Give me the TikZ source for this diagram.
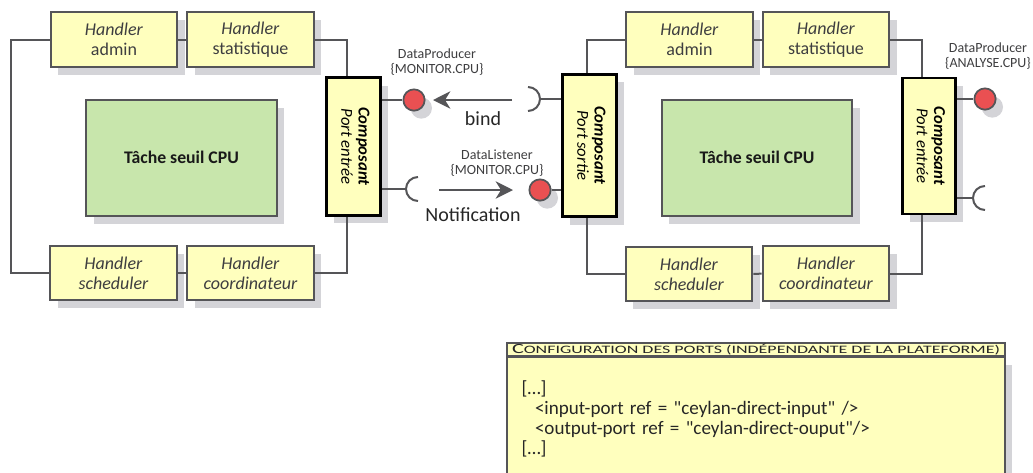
\documentclass[tikz,border=0pt]{standalone}
\usepackage{fontspec}
\setmainfont{Carlito}
\newfontfamily\cfgfont{Carlito}
\usepackage{graphicx}
\usetikzlibrary{arrows.meta, positioning, calc, shadows}
\definecolor{cYellow}{RGB}{255,255,190}
\definecolor{cGreen}{RGB}{200,230,172}
\definecolor{cRed}{RGB}{234,80,82}
\definecolor{cWire}{RGB}{85,85,88}
\definecolor{cShadow}{RGB}{212,212,216}
\definecolor{cText}{RGB}{62,62,64}
\tikzset{
	shade/.style   ={drop shadow={shadow xshift=5.5pt, shadow yshift=-6pt, fill=cShadow, opacity=1}},
	handler/.style ={rectangle, draw=cWire, line width=1.5pt, fill=cYellow, shade, minimum width=95pt, minimum height=41pt, align=center, text=cText, font=\fontsize{13.5}{15}\selectfont},
	task/.style    ={rectangle, draw=cWire, line width=1.5pt, fill=cGreen, shade, minimum width=143pt, minimum height=87pt, text=black!90, font=\bfseries\fontsize{13.3}{15}\selectfont},
	compo/.style   ={rectangle, draw=black, line width=2.2pt, fill=cYellow, shade, minimum width=40pt, inner sep=0pt, text=black, font=\fontsize{12.5}{13}\selectfont},
	port/.style    ={circle, draw=cWire, line width=1.3pt, fill=cRed, shade, minimum size=16pt, inner sep=0pt},
	wire/.style    ={draw=cWire, line width=1.5pt},
	flow/.style    ={draw=cWire, line width=1.5pt, -{Stealth[length=13pt, width=13pt, inset=4pt]}},
	plabel/.style  ={align=center, text=cText, font=\fontsize{10.5}{11.5}\selectfont},
	flabel/.style  ={text=black!85, font=\fontsize{15}{17}\selectfont},
	cfghead/.style ={rectangle, draw=cWire, line width=1pt, fill=cYellow, minimum width=373.5pt, minimum height=9.75pt, inner sep=0pt, text=black!85, font=\cfgfont\fontsize{8.5}{8.5}\selectfont},
	cfgbody/.style ={rectangle, draw=cWire, line width=1pt, fill=cYellow, shade, minimum width=373.5pt, minimum height=93pt, inner xsep=11pt, text width=351.5pt, align=left, text=black!85, font=\cfgfont\fontsize{14.3}{15}\selectfont},
}
\newcommand{\compotext}[2]{\rotatebox{-90}{\begin{tabular}{@{}c@{}}\textbf{\textit{#1}}\\\textit{#2}\end{tabular}}}

\begin{document}
\begin{tikzpicture}[x=0.75pt, y=0.75pt]
	\useasboundingbox (0,0) rectangle (1033,-472);
	% left component
	\node[handler] (admL) at (114,-39.5) {\textit{Handler}\\admin};
	\node[handler] (staL) at (250.5,-39.5) {\textit{Handler}\\statistique};
	\node[handler] (schL) at (113.5,-273) {\textit{Handler}\\\textit{scheduler}};
	\node[handler] (cooL) at (250.5,-273) {\textit{Handler}\\\textit{coordinateur}};
	\node[task] (taskL) at (181.5,-157.5) {Tâche seuil CPU};
	\node[compo, minimum height=103pt] (inL) at (353.5,-146.5) {\compotext{Composant}{Port entrée}};
	\draw[wire] (admL.west) -- ++(-39,0) |- (schL.west);
	\draw[wire] (admL) -- (staL); \draw[wire] (schL) -- (cooL);
	\draw[wire] (staL.east) -| ([xshift=-5pt]inL.north);
	\draw[wire] (cooL.east) -| ([xshift=-5pt]inL.south);
	% right component
	\node[handler] (admR) at (689.5,-39.5) {\textit{Handler}\\admin};
	\node[handler] (staR) at (826,-39.5) {\textit{Handler}\\statistique};
	\node[handler] (schR) at (689,-274) {\textit{Handler}\\\textit{scheduler}};
	\node[handler] (cooR) at (826,-273.5) {\textit{Handler}\\\textit{coordinateur}};
	\node[task] (taskR) at (757,-157.5) {Tâche seuil CPU};
	\node[compo, minimum height=107pt] (outR) at (589.5,-145.5) {\compotext{Composant}{Port sortie}};
	\node[compo, minimum height=102pt] (inR) at (929,-146) {\compotext{Composant}{Port entrée}};
	\draw[wire] (admR.west) -| ([xshift=-2pt]outR.north);
	\draw[wire] (schR.west) -| ([xshift=-2pt]outR.south);
	\draw[wire] (admR) -- (staR); \draw[wire] (schR) -- (cooR);
	\draw[wire] (staR.east) -| ([xshift=-5pt]inR.north);
	\draw[wire] (cooR.east) -| ([xshift=-5pt]inR.south);
	% ports
	\node[port] (prodL) at (414,-100) {};
	\node[port] (lisR) at (540,-190) {};
	\node[port] (prodR) at (985,-99) {};
	\coordinate (sockA) at (540,-99);
	\coordinate (sockB) at (406,-189);
	\coordinate (sockC) at (973,-198);
	\draw[wire] (inL.east |- prodL) -- (prodL);
	\draw[wire] (inL.east |- sockB) -- (sockB);
	\draw[wire] (sockB) ++(12,12) arc[start angle=90, end angle=270, radius=9pt];
	\draw[wire] (sockA) -- (sockA -| outR.west);
	\draw[wire] (sockA) ++(-12,-12) arc[start angle=-90, end angle=90, radius=9pt];
	\draw[wire] (lisR) -- (lisR -| outR.west);
	\draw[wire] (inR.east |- prodR) -- (prodR);
	\draw[wire] (inR.east |- sockC) -- (sockC);
	\draw[wire] (sockC) ++(12,12) arc[start angle=90, end angle=270, radius=9pt];
	\node[plabel] (prodLT) at (437,-62) {DataProducer\\\{MONITOR.CPU\}};
	\node[plabel] (lisRT) at (497,-163) {DataListener\\\{MONITOR.CPU\}};
	\node[plabel] (prodRT) at (988,-56) {DataProducer\\\{ANALYSE.CPU\}};
	% bind / notification
	\coordinate (bindA) at (512,-100); \coordinate (bindB) at (433,-100);
	\coordinate (notA) at (439,-190); \coordinate (notB) at (513,-190);
	\draw[flow] (bindA) -- (bindB);
	\draw[flow] (notA) -- (notB);
	\node[flabel] (bindT) at (483,-119) {bind};
	\node[flabel] (notT) at (473,-215) {Notification};
	% configuration
	\node[cfghead] (cfgH) at (756,-349.5) {\resizebox{366pt}{\height}{{\fontsize{10.5}{10.5}\selectfont C}ONFIGURATION DES PORTS (INDÉPENDANTE DE LA PLATEFORME)}};
	\node[cfgbody, below=0pt of cfgH] (cfgB) {{[…]}\\\hspace*{10pt}<input-port ref = "ceylan-direct-input" />\\\hspace*{10pt}<output-port ref = "ceylan-direct-ouput"/>\\{}[…]};
\end{tikzpicture}
\end{document}
